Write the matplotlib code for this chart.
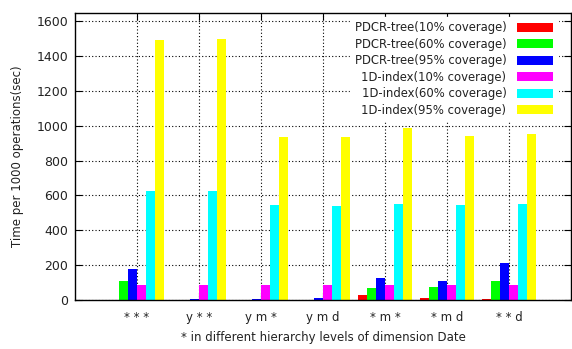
import numpy as np
import matplotlib
matplotlib.use("Agg")
import matplotlib.pyplot as plt

categories = ["* * *", "y * *", "y m *", "y m d", "* m *", "* m d", "* * d"]
series_names = ["PDCR-tree(10% coverage)", "PDCR-tree(60% coverage)", "PDCR-tree(95% coverage)",
                "1D-index(10% coverage)", "1D-index(60% coverage)", "1D-index(95% coverage)"]
pdcr_10 = [2, 1, 1, 1, 30, 11, 3]
pdcr_60 = [110, 2, 1, 2, 69, 76, 109]
pdcr_95 = [179, 5, 5, 13, 124, 109, 215]
idx_10 = [86, 86, 86, 86, 86, 86, 86]
idx_60 = [623, 623, 543, 541, 550, 545, 549]
idx_95 = [1490, 1499, 933, 935, 985, 940, 952]
colors = ["#ff0000", "#00ff00", "#0000ff", "#ff00ff", "#00ffff", "#ffff00"]

plt.rcParams['font.family'] = ['DejaVu Sans']
fig = plt.figure(figsize=(5.72, 3.49), dpi=100)
ax = fig.add_axes([75/572, 1-300/349, 496/572, 287/349])

x = np.arange(1, len(categories)+1)
w = 1/7
all_series = [pdcr_10, pdcr_60, pdcr_95, idx_10, idx_60, idx_95]
for i, vals in enumerate(all_series):
    ax.bar(x + (i-2.5)*w, vals, width=w, color=colors[i], label=series_names[i], zorder=3)

ax.set_xlim(0, 8)
ax.set_ylim(0, 1646)
ax.set_yticks(range(0, 1601, 200))
ax.set_xticks(x)
ax.set_xticklabels(categories, fontsize=8.5, color="#222222")
ax.tick_params(axis="y", labelsize=9, labelcolor="#222222", pad=5)
ax.tick_params(direction="in", length=5, top=True, right=True, width=0.8)
ax.tick_params(axis="x", length=5, pad=8)
ax.grid(True, linestyle=(0, (1, 2)), color="black", linewidth=0.8, zorder=1)
for s in ax.spines.values():
    s.set_linewidth(1.0)
    s.set_zorder(4)

ax.set_ylabel("Time per 1000 operations(sec)", fontsize=8.5, color="#222222", labelpad=9)
ax.set_xlabel("* in different hierarchy levels of dimension Date", fontsize=8.5, color="#222222", labelpad=5)

leg = ax.legend(loc="upper right", bbox_to_anchor=(0.985, 1.008), markerfirst=False, fontsize=8.4,
                frameon=True, fancybox=False, handlelength=3.1, handleheight=0.8,
                labelspacing=0.3, borderpad=0.4, handletextpad=0.9)
leg.get_frame().set_edgecolor("white")
leg.get_frame().set_facecolor("white")
leg.get_frame().set_alpha(1.0)
leg.set_zorder(5)
for t in leg.get_texts():
    t.set_color("#222222")

fig.savefig("out.png", dpi=100)
